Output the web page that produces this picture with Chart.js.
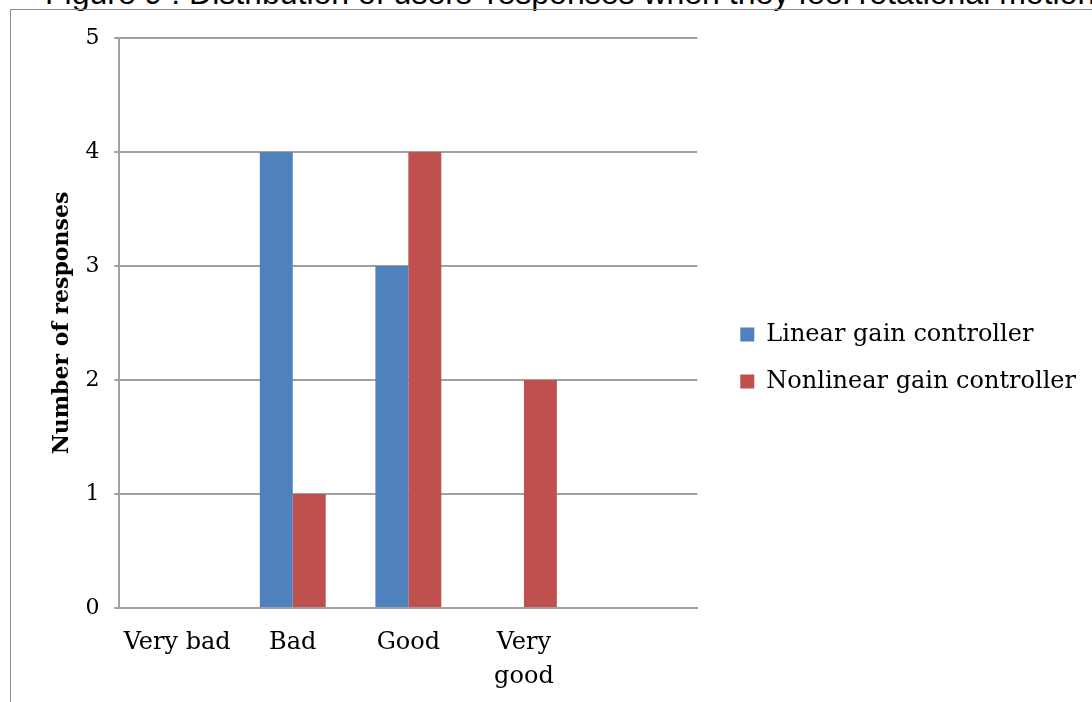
<!DOCTYPE html>
<html>
<head>
<meta charset="utf-8">
<title>Distribution of users' responses</title>
<script src="https://cdn.jsdelivr.net/npm/chart.js"></script>
<style>
    body { margin: 0; width: 1092px; height: 702px; overflow: hidden; background: #fff; position: relative; }
    #fig-title { position: absolute; left: 45px; top: -23px; line-height: 32px; font-family: "Liberation Sans", Arial, sans-serif; font-size: 32px; white-space: nowrap; color: #000; }
    #frame { position: absolute; left: 10px; top: 9px; width: 1200px; height: 800px; border-left: 1px solid #8c8c8c; border-top: 1px solid #8c8c8c; }
    #wrap { position: absolute; left: 0; top: 0; width: 1092px; height: 702px; }
</style>
</head>
<body>
<div id="fig-title">Figure 9 : Distribution of users' responses when they feel rotational motion</div>
<div id="frame"></div>
<div id="wrap"><canvas id="bar-chart-responses"></canvas></div>
<script>
// responses per rating, the last slot is an empty category like in the sheet
let categories = ["Very bad", "Bad", "Good", ["Very", "good"], ""];
let linearGain = [0, 4, 3, 0, null];
let nonlinearGain = [0, 1, 4, 2, null];
let seriesNames = ["Linear gain controller", "Nonlinear gain controller"];
let yMin = 0, yMax = 5, yStep = 1;

let serif = "'DejaVu Serif', serif";
let gridColor = "#a0a0a0";

// legend sits a bit above the middle in the original
let legendShift = {
    id: 'legendShift',
    afterLayout: function (chart) {
        chart.legend.top -= 8;
        chart.legend.bottom -= 8;
    }
};

new Chart(document.getElementById("bar-chart-responses"), {
    type: 'bar',
    data: {
        labels: categories,
        datasets: [{
            label: seriesNames[0],
            data: linearGain,
            backgroundColor: "#4f81bd"
        }, {
            label: seriesNames[1],
            data: nonlinearGain,
            backgroundColor: "#c0504d"
        }]
    },
    plugins: [legendShift],
    options: {
        responsive: true,
        maintainAspectRatio: false,
        animation: false,
        layout: {
            padding: { top: 38, left: 49, right: 6, bottom: 8 }
        },
        datasets: {
            bar: { categoryPercentage: 0.57, barPercentage: 1.0 }
        },
        plugins: {
            tooltip: { enabled: false },
            legend: {
                position: 'right',
                maxWidth: 420,
                labels: {
                    boxWidth: 14,
                    boxHeight: 14,
                    padding: 23,
                    color: "#000",
                    font: { family: serif, size: 24 }
                }
            }
        },
        scales: {
            x: {
                grid: { display: false, drawTicks: false },
                border: { display: true, color: gridColor, width: 2 },
                ticks: {
                    color: "#000",
                    padding: 18,
                    maxRotation: 0,
                    autoSkip: false,
                    font: { family: serif, size: 24, lineHeight: 1.42 }
                },
                afterFit: function (scale) { scale.height = 86; }
            },
            y: {
                min: yMin,
                max: yMax,
                ticks: {
                    stepSize: yStep,
                    color: "#000",
                    padding: 15,
                    font: { family: serif, size: 22 }
                },
                grid: { color: gridColor, lineWidth: 2, tickLength: 5 },
                border: { display: true, color: gridColor, width: 2 },
                title: {
                    display: true,
                    text: "Number of responses",
                    color: "#000",
                    padding: { top: 0, bottom: -5 },
                    font: { family: serif, size: 22, weight: 'bold' }
                }
            },
            // empty spacer between the plot and the legend
            gap: {
                position: 'right',
                display: true,
                grid: { display: false, drawTicks: false },
                border: { display: false },
                ticks: { display: false },
                afterFit: function (scale) { scale.width = 20; }
            }
        }
    }
});
</script>
</body>
</html>
